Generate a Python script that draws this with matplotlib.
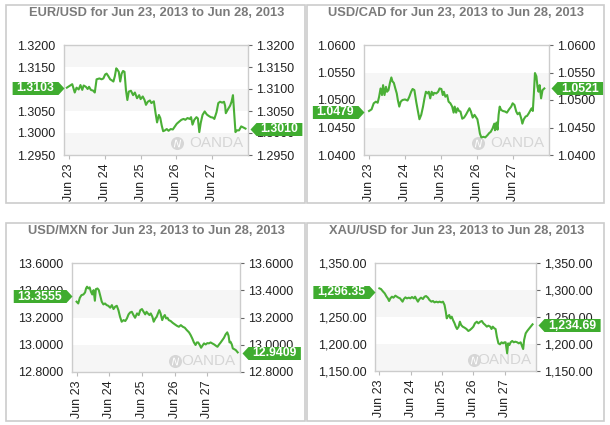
import matplotlib
matplotlib.use('Agg')
import matplotlib.pyplot as plt
import matplotlib.transforms as mtransforms
from matplotlib.patches import Rectangle

plt.rcParams['font.family'] = ['Liberation Sans', 'DejaVu Sans']

# ---------------- data ----------------
day_labels = ['Jun 23', 'Jun 24', 'Jun 25', 'Jun 26', 'Jun 27']
titles = ['EUR/USD for Jun 23, 2013 to Jun 28, 2013',
          'USD/CAD for Jun 23, 2013 to Jun 28, 2013',
          'USD/MXN for Jun 23, 2013 to Jun 28, 2013',
          'XAU/USD for Jun 23, 2013 to Jun 28, 2013']

eurusd_t = [-0.06, 0.09, 0.16, 0.21, 0.27, 0.32, 0.37, 0.41, 0.47, 0.52, 0.56, 0.61, 0.68, 0.72,
            0.77, 0.85, 0.91, 0.96, 1.01, 1.05, 1.10, 1.15, 1.19, 1.24, 1.28, 1.32, 1.35, 1.39,
            1.43, 1.47, 1.51, 1.55, 1.59, 1.63, 1.67, 1.73, 1.79, 1.84, 1.90, 1.96, 2.00, 2.06,
            2.11, 2.15, 2.20, 2.26, 2.30, 2.37, 2.42, 2.46, 2.51, 2.55, 2.59, 2.63, 2.68, 2.73,
            2.78, 2.84, 2.90, 2.95, 3.01, 3.08, 3.14, 3.20, 3.25, 3.31, 3.37, 3.41, 3.45, 3.50,
            3.56, 3.60, 3.64, 3.68, 3.73, 3.79, 3.85, 3.90, 3.96, 4.02, 4.06, 4.12, 4.17, 4.22,
            4.28, 4.33, 4.36, 4.38, 4.44, 4.50, 4.54, 4.58, 4.62, 4.65, 4.69, 4.75, 4.81, 4.86, 4.93]
eurusd_v = [1.3103, 1.3111, 1.3092, 1.3103, 1.3099, 1.3109, 1.3098, 1.3108, 1.3105, 1.3100, 1.3105,
            1.3098, 1.3096, 1.3092, 1.3122, 1.3124, 1.3122, 1.3124, 1.3133, 1.3135, 1.3129, 1.3122,
            1.3120, 1.3117, 1.3129, 1.3147, 1.3144, 1.3139, 1.3117, 1.3135, 1.3141, 1.3139, 1.3098,
            1.3075, 1.3094, 1.3096, 1.3086, 1.3092, 1.3079, 1.3086, 1.3077, 1.3083, 1.3075, 1.3064,
            1.3071, 1.3074, 1.3068, 1.3072, 1.3044, 1.3024, 1.3041, 1.3034, 1.3017, 1.3004, 1.3006,
            1.3009, 1.3005, 1.3009, 1.3008, 1.3014, 1.3021, 1.3026, 1.3030, 1.3032, 1.3030, 1.3034,
            1.3032, 1.3036, 1.3019, 1.3030, 1.3036, 1.3033, 1.3002, 1.3023, 1.3041, 1.3049, 1.3042,
            1.3039, 1.3036, 1.3035, 1.3032, 1.3047, 1.3068, 1.3071, 1.3069, 1.3071, 1.3062, 1.3045,
            1.3054, 1.3062, 1.3071, 1.3086, 1.3038, 1.3002, 1.3006, 1.3006, 1.3015, 1.3013, 1.3010]

usdcad_t = [0.00, 0.07, 0.13, 0.19, 0.24, 0.28, 0.32, 0.36, 0.39, 0.43, 0.47, 0.50, 0.54, 0.58,
            0.62, 0.65, 0.69, 0.73, 0.77, 0.80, 0.84, 0.88, 0.93, 1.00, 1.07, 1.12, 1.17, 1.21,
            1.26, 1.31, 1.36, 1.40, 1.45, 1.50, 1.54, 1.58, 1.63, 1.66, 1.70, 1.74, 1.78, 1.81,
            1.87, 1.92, 1.96, 2.01, 2.05, 2.08, 2.12, 2.17, 2.21, 2.26, 2.31, 2.35, 2.38, 2.42,
            2.46, 2.50, 2.54, 2.59, 2.64, 2.69, 2.74, 2.79, 2.83, 2.88, 2.93, 2.98, 3.01, 3.05,
            3.08, 3.12, 3.18, 3.23, 3.29, 3.34, 3.38, 3.43, 3.48, 3.50, 3.54, 3.57, 3.60, 3.63,
            3.67, 3.72, 3.78, 3.83, 3.89, 3.95, 3.99, 4.04, 4.09, 4.13, 4.18, 4.23, 4.26, 4.30,
            4.35, 4.39, 4.44, 4.49, 4.52, 4.55, 4.58, 4.61, 4.65, 4.68, 4.71, 4.74, 4.78, 4.82, 4.87]
usdcad_v = [1.0480, 1.0483, 1.0494, 1.0497, 1.0495, 1.0506, 1.0521, 1.0509, 1.0527, 1.0509, 1.0524,
            1.0515, 1.0518, 1.0531, 1.0541, 1.0534, 1.0531, 1.0521, 1.0512, 1.0500, 1.0488, 1.0497,
            1.0500, 1.0501, 1.0499, 1.0506, 1.0515, 1.0520, 1.0518, 1.0497, 1.0479, 1.0465, 1.0473,
            1.0488, 1.0503, 1.0515, 1.0512, 1.0515, 1.0503, 1.0515, 1.0509, 1.0513, 1.0512, 1.0515,
            1.0521, 1.0520, 1.0509, 1.0515, 1.0506, 1.0509, 1.0497, 1.0494, 1.0488, 1.0477, 1.0488,
            1.0477, 1.0485, 1.0480, 1.0479, 1.0466, 1.0468, 1.0473, 1.0479, 1.0485, 1.0479, 1.0468,
            1.0473, 1.0468, 1.0465, 1.0451, 1.0439, 1.0432, 1.0433, 1.0432, 1.0436, 1.0440, 1.0442,
            1.0448, 1.0457, 1.0445, 1.0459, 1.0446, 1.0473, 1.0488, 1.0482, 1.0480, 1.0479, 1.0477,
            1.0483, 1.0488, 1.0494, 1.0491, 1.0479, 1.0474, 1.0477, 1.0466, 1.0457, 1.0465, 1.0470,
            1.0471, 1.0476, 1.0482, 1.0485, 1.0480, 1.0512, 1.0549, 1.0543, 1.0524, 1.0515, 1.0527,
            1.0503, 1.0518, 1.0521]

usdmxn_t = [0.00, 0.05, 0.10, 0.15, 0.21, 0.26, 0.29, 0.32, 0.36, 0.40, 0.44, 0.48, 0.52, 0.56,
            0.59, 0.64, 0.68, 0.72, 0.77, 0.82, 0.87, 0.92, 0.97, 1.03, 1.08, 1.13, 1.18, 1.23,
            1.28, 1.33, 1.38, 1.44, 1.49, 1.54, 1.59, 1.64, 1.69, 1.74, 1.79, 1.85, 1.90, 1.95,
            2.00, 2.05, 2.10, 2.14, 2.18, 2.23, 2.27, 2.32, 2.36, 2.41, 2.45, 2.49, 2.53, 2.57,
            2.62, 2.66, 2.70, 2.74, 2.78, 2.82, 2.88, 2.94, 3.01, 3.07, 3.13, 3.19, 3.25, 3.31,
            3.37, 3.44, 3.49, 3.54, 3.59, 3.64, 3.68, 3.72, 3.76, 3.81, 3.85, 3.90, 3.95, 4.00,
            4.05, 4.10, 4.15, 4.21, 4.26, 4.31, 4.36, 4.41, 4.46, 4.51, 4.56, 4.61, 4.65, 4.68,
            4.71, 4.75, 4.78, 4.82, 4.87, 4.93]
usdmxn_v = [13.316, 13.303, 13.345, 13.364, 13.369, 13.384, 13.413, 13.426, 13.413, 13.421, 13.389,
            13.369, 13.401, 13.323, 13.408, 13.413, 13.401, 13.364, 13.316, 13.296, 13.303, 13.291,
            13.286, 13.272, 13.291, 13.262, 13.279, 13.286, 13.254, 13.205, 13.169, 13.181, 13.174,
            13.193, 13.223, 13.237, 13.242, 13.218, 13.198, 13.230, 13.218, 13.254, 13.262, 13.242,
            13.223, 13.242, 13.230, 13.218, 13.230, 13.205, 13.169, 13.193, 13.205, 13.230, 13.254,
            13.230, 13.181, 13.205, 13.218, 13.193, 13.198, 13.181, 13.174, 13.161, 13.149, 13.139,
            13.132, 13.144, 13.132, 13.125, 13.108, 13.091, 13.071, 13.046, 13.017, 12.998, 13.017,
            13.017, 13.002, 12.978, 12.993, 13.010, 13.002, 13.012, 13.010, 13.017, 13.010, 13.002,
            12.993, 12.985, 13.002, 13.017, 13.034, 13.051, 13.076, 13.091, 13.066, 13.017, 13.022,
            13.002, 12.973, 12.968, 12.961, 12.944]

xauusd_t = [0.00, 0.05, 0.12, 0.17, 0.23, 0.27, 0.31, 0.35, 0.40, 0.45, 0.51, 0.56, 0.61, 0.66,
            0.70, 0.74, 0.78, 0.83, 0.88, 0.94, 0.99, 1.04, 1.10, 1.14, 1.18, 1.23, 1.28, 1.33,
            1.39, 1.44, 1.49, 1.55, 1.60, 1.66, 1.71, 1.76, 1.82, 1.87, 1.92, 1.98, 2.03, 2.08,
            2.12, 2.15, 2.18, 2.23, 2.27, 2.31, 2.35, 2.40, 2.44, 2.48, 2.53, 2.57, 2.61, 2.66,
            2.72, 2.78, 2.84, 2.89, 2.95, 3.00, 3.05, 3.11, 3.16, 3.22, 3.27, 3.32, 3.38, 3.43,
            3.48, 3.54, 3.58, 3.62, 3.67, 3.71, 3.75, 3.80, 3.85, 3.90, 3.95, 3.99, 4.03, 4.08,
            4.11, 4.15, 4.19, 4.24, 4.29, 4.34, 4.40, 4.45, 4.51, 4.56, 4.59, 4.62, 4.67, 4.72,
            4.77, 4.83, 4.89]
xauusd_v = [1303.0, 1301.8, 1296.9, 1293.8, 1287.6, 1284.5, 1279.6, 1284.5, 1287.6, 1285.8, 1289.5,
            1287.6, 1285.8, 1284.5, 1281.4, 1278.4, 1283.3, 1286.4, 1284.5, 1285.8, 1284.5, 1287.0,
            1284.5, 1287.6, 1283.3, 1278.4, 1283.3, 1285.8, 1283.3, 1287.6, 1288.8, 1285.8, 1281.4,
            1278.4, 1279.6, 1277.1, 1278.4, 1277.1, 1278.4, 1277.1, 1278.4, 1272.2, 1259.8, 1247.5,
            1250.6, 1253.7, 1247.5, 1250.6, 1244.4, 1238.3, 1232.1, 1227.8, 1232.1, 1241.3, 1235.2,
            1232.1, 1230.2, 1227.8, 1224.1, 1225.9, 1229.0, 1232.1, 1238.3, 1241.3, 1238.3, 1241.3,
            1242.6, 1238.3, 1235.2, 1232.1, 1233.9, 1232.1, 1227.8, 1232.1, 1229.0, 1227.8, 1213.6,
            1201.2, 1199.4, 1203.1, 1201.2, 1203.1, 1203.1, 1182.7, 1201.2, 1198.1, 1203.1, 1205.6,
            1203.1, 1204.3, 1203.1, 1201.2, 1203.1, 1195.1, 1190.7, 1207.4, 1219.7, 1224.1, 1227.8,
            1232.1, 1236.4]

open_tags = ['1.3103', '1.0479', '13.3555', '1,296.35']
open_vals = [1.3103, 1.0479, 13.3555, 1296.35]
close_tags = ['1.3010', '1.0521', '12.9409', '1,234.69']
close_vals = [1.3010, 1.0521, 12.9409, 1234.69]

yticks_list = [[1.2950, 1.3000, 1.3050, 1.3100, 1.3150, 1.3200],
               [1.0400, 1.0450, 1.0500, 1.0550, 1.0600],
               [12.8, 13.0, 13.2, 13.4, 13.6],
               [1150, 1200, 1250, 1300, 1350]]
fmts = ['{:.4f}', '{:.4f}', '{:.4f}', '{:,.2f}']

series_t = [eurusd_t, usdcad_t, usdmxn_t, xauusd_t]
series_v = [eurusd_v, usdcad_v, usdmxn_v, xauusd_v]

# ---------------- layout (pixels) ----------------
W, H = 610, 425
DPI = 100
axes_px = [(64, 45, 248, 155), (364, 45, 549, 155), (72, 263, 240, 372), (375, 263, 536, 371)]
panels_px = [(6, 5, 305, 203), (307, 5, 604, 203), (6, 223, 305, 421), (307, 223, 604, 421)]
title_y = [13.5, 13.5, 231, 231]

LINE = '#4aaf36'
TAG = '#3fac2f'
GRID_BAND = '#f6f6f6'
BORDER = '#cccccc'
WATER = '#d6d6d6'

fig = plt.figure(figsize=(W / DPI, H / DPI), dpi=DPI)
fig.patch.set_facecolor('white')

for (x0, y0, x1, y1) in panels_px:
    fig.patches.append(Rectangle((x0 / W, 1 - y1 / H), (x1 - x0) / W, (y1 - y0) / H,
                                 transform=fig.transFigure, fill=False,
                                 edgecolor=BORDER, linewidth=1.2))


def add_tag(ax, value, text, side):
    trans = mtransforms.blended_transform_factory(ax.transAxes, ax.transData)
    px = 72.0 / DPI
    if side == 'left':
        t = ax.annotate(text, xy=(0, value), xycoords=trans, xytext=(-10 * px, -0.3),
                        textcoords='offset points', ha='right', va='center',
                        fontsize=8.8, fontweight='bold', color='white',
                        annotation_clip=False, zorder=11)
    else:
        t = ax.annotate(text, xy=(1, value), xycoords=trans, xytext=(12 * px, -0.3),
                        textcoords='offset points', ha='left', va='center',
                        fontsize=8.8, fontweight='bold', color='white',
                        annotation_clip=False, zorder=11)
    r = fig.canvas.get_renderer()
    tw = t.get_window_extent(r).width
    bw = tw + 8
    hh = 6.5
    if side == 'left':
        verts = [(0, 0), (-6, hh), (-6 - bw, hh), (-6 - bw, -hh), (-6, -hh), (0, 0)]
        off = mtransforms.ScaledTranslation(0, 0, fig.dpi_scale_trans)
        xa = 0
    else:
        verts = [(0, 0), (6, hh), (6 + bw, hh), (6 + bw, -hh), (6, -hh), (0, 0)]
        off = mtransforms.ScaledTranslation(2 / DPI, 0, fig.dpi_scale_trans)
        xa = 1
    ms = 2 * (6 + bw) * 72.0 / DPI
    ax.plot([xa], [value], marker=verts, markersize=ms, color=TAG, markeredgewidth=0,
            transform=trans + off, clip_on=False, zorder=10)


for i in range(4):
    x0, y0, x1, y1 = axes_px[i]
    ax = fig.add_axes([x0 / W, 1 - y1 / H, (x1 - x0) / W, (y1 - y0) / H])
    yt = yticks_list[i]
    ax.set_ylim(yt[0], yt[-1])
    ax.set_xlim(-0.14, 5.0)
    for k in range(len(yt) - 1):
        if k % 2 == 0:
            ax.axhspan(yt[k], yt[k + 1], color=GRID_BAND, zorder=0, lw=0)
    ax.plot(series_t[i], series_v[i], color=LINE, lw=1.5, zorder=3, solid_joinstyle='round')

    ax.set_yticks(yt)
    ax.set_yticklabels([fmts[i].format(v) for v in yt])
    ax.set_xticks(range(len(day_labels)))
    ax.set_xticklabels(day_labels, rotation=90, va='top', ha='center')
    ax.tick_params(axis='y', which='both', left=False, right=True, labelleft=True,
                   labelright=True, length=3, width=0.8, color='#666666', pad=3,
                   labelsize=9, labelcolor='#222222')
    ax.tick_params(axis='x', length=3, width=0.8, color='#bbbbbb', pad=3,
                   labelsize=9, labelcolor='#222222')
    for s in ax.spines.values():
        s.set_color(BORDER)
        s.set_linewidth(1.0)

    # watermark (logo circle + wordmark)
    ax.text(0.973, 0.105, 'OANDA', transform=ax.transAxes, ha='right', va='center',
            fontsize=11, color=WATER, zorder=2)
    ax.plot([0.615], [0.105], marker='o', markersize=9.4, color=WATER,
            transform=ax.transAxes, zorder=2, markeredgewidth=0)
    ax.plot([0.615], [0.105], marker='$N$', markersize=5.5, color='white',
            transform=ax.transAxes, zorder=2, markeredgewidth=0)

    add_tag(ax, open_vals[i], open_tags[i], 'left')
    add_tag(ax, close_vals[i], close_tags[i], 'right')

    px0, py0, px1, py1 = panels_px[i]
    fig.text(((px0 + px1) / 2 + 1) / W, 1 - title_y[i] / H, titles[i], ha='center',
             va='center', fontsize=9.3, fontweight='bold', color='#7a7a7a')

fig.savefig('out.png', dpi=DPI, facecolor='white')
